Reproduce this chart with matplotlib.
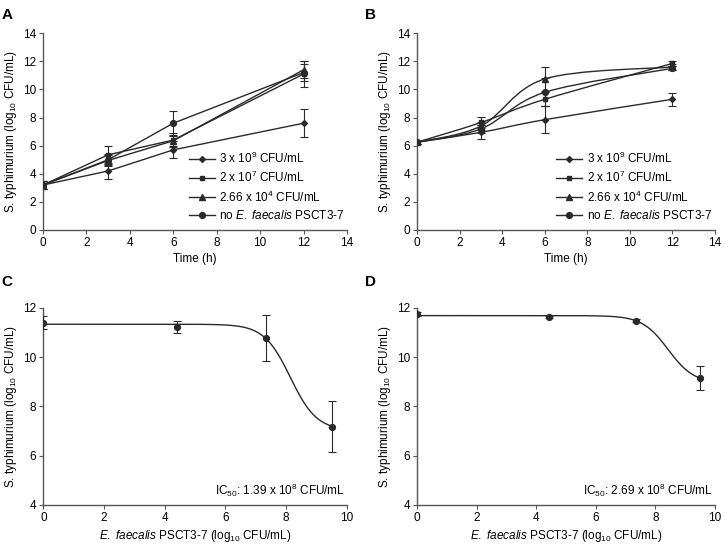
import numpy as np
import matplotlib
matplotlib.use("Agg")
import matplotlib.pyplot as plt
from matplotlib.path import Path
from matplotlib.patches import PathPatch

plt.rcParams['font.family'] = ['Liberation Sans', 'DejaVu Sans']
plt.rcParams['mathtext.fontset'] = 'custom'
plt.rcParams['mathtext.rm'] = 'Liberation Sans'
plt.rcParams['mathtext.it'] = 'Liberation Sans:italic'
plt.rcParams['font.size'] = 8

# ---- data ----
time_h = [0, 3, 6, 12]
labels = [r"3 x 10$^9$ CFU/mL", r"2 x 10$^7$ CFU/mL",
          r"2.66 x 10$^4$ CFU/mL", r"no $\it{E.\ faecalis}$ PSCT3-7"]
markers = ['D', 's', '^', 'o']
msizes = [3.0, 3.5, 4.0, 4.2]

# panel A (straight lines)
a_vals = [[3.2, 4.2, 5.7, 7.6],
          [3.2, 5.35, 6.4, 11.1],
          [3.2, 4.95, 6.35, 11.4],
          [3.2, 5.0, 7.6, 11.2]]
a_err = [[0.3, 0.6, 0.6, 1.0],
         [0.3, 0.65, 0.5, 0.9],
         [0.3, 0.4, 0.4, 0.6],
         [0.3, 0.4, 0.9, 0.6]]

# panel B (smoothed lines)
b_vals = [[6.25, 6.95, 7.85, 9.3],
          [6.25, 7.65, 9.3, 11.85],
          [6.25, 7.4, 10.75, 11.6],
          [6.25, 7.2, 9.8, 11.5]]
b_err = [[0.1, 0.5, 0.95, 0.45],
         [0.1, 0.4, 0.5, 0.15],
         [0.1, 0.3, 0.85, 0.2],
         [0.1, 0.3, 1.0, 0.15]]

# panels C and D (dose response)
dose_log = [0, 4.42, 7.35, 9.5]
c_vals = [11.4, 11.22, 10.76, 7.18]
c_err = [0.25, 0.25, 0.93, 1.02]
c_fit = dict(top=11.33, bottom=7.02, logic50=8.143, hill=1.0)
d_vals = [11.75, 11.63, 11.48, 9.15]
d_err = [0.08, 0.05, 0.05, 0.49]
d_fit = dict(top=11.68, bottom=8.93, logic50=8.43, hill=1.0)
c_ic50 = r"IC$_{50}$: 1.39 x 10$^8$ CFU/mL"
d_ic50 = r"IC$_{50}$: 2.69 x 10$^8$ CFU/mL"

col = '#2a2a2a'
spine_col = '#555555'
ylab = r"S. typhimurium (log$_{10}$ CFU/mL)"


def style_axes(ax):
    for s in ['top', 'right']:
        ax.spines[s].set_visible(False)
    for s in ['left', 'bottom']:
        ax.spines[s].set_color(spine_col)
        ax.spines[s].set_linewidth(1.0)
    ax.tick_params(direction='out', length=3, width=0.8, color=spine_col,
                   labelsize=8.5, pad=2)


def smooth_path(x, y):
    # Catmull-Rom through the points, as cubic bezier
    x = np.asarray(x, float)
    y = np.asarray(y, float)
    px = np.concatenate([[x[0]], x, [x[-1]]])
    py = np.concatenate([[y[0]], y, [y[-1]]])
    verts = [(x[0], y[0])]
    codes = [Path.MOVETO]
    for i in range(1, len(px) - 2):
        c1 = (px[i] + (px[i + 1] - px[i - 1]) / 6, py[i] + (py[i + 1] - py[i - 1]) / 6)
        c2 = (px[i + 1] - (px[i + 2] - px[i]) / 6, py[i + 1] - (py[i + 2] - py[i]) / 6)
        verts += [c1, c2, (px[i + 1], py[i + 1])]
        codes += [Path.CURVE4] * 3
    return Path(verts, codes)


fig = plt.figure(figsize=(7.25, 5.45), dpi=100)
axA = fig.add_axes([0.0593, 0.578, 0.4193, 0.361])
axB = fig.add_axes([0.5756, 0.578, 0.4104, 0.361])
axC = fig.add_axes([0.0598, 0.0734, 0.4184, 0.362])
axD = fig.add_axes([0.5756, 0.0734, 0.4104, 0.362])

# ---- panels A & B ----
for ax, vals, errs, smooth in [(axA, a_vals, a_err, False), (axB, b_vals, b_err, True)]:
    handles = []
    for v, e, m, ms, lab in zip(vals, errs, markers, msizes, labels):
        ax.errorbar(time_h, v, yerr=e, fmt='none', ecolor=col, elinewidth=0.8,
                    capsize=3, capthick=0.8, zorder=2)
        if smooth:
            ax.add_patch(PathPatch(smooth_path(time_h, v), facecolor='none',
                                   edgecolor=col, lw=1.0, zorder=3))
            ax.plot(time_h, v, linestyle='none', marker=m, ms=ms, color=col, zorder=4)
            h, = ax.plot([], [], '-', marker=m, ms=ms, color=col, lw=1.0, label=lab)
        else:
            h, = ax.plot(time_h, v, '-', marker=m, ms=ms, color=col, lw=1.0,
                         label=lab, zorder=3)
        handles.append(h)
    ax.set_xlim(0, 14)
    ax.set_ylim(0, 14)
    ax.set_xticks(range(0, 15, 2))
    ax.set_yticks(range(0, 15, 2))
    ax.set_xlabel("Time (h)", fontsize=8.5, labelpad=3)
    ax.set_ylabel(ylab, fontsize=8.5, labelpad=3)
    style_axes(ax)
    ax.legend(handles=handles, loc='lower right', bbox_to_anchor=(1.02, 0.0),
              frameon=False, fontsize=8.5, handlelength=2.2, handletextpad=0.4,
              labelspacing=0.35, borderaxespad=0.3)

# ---- panels C & D ----
for ax, vals, errs, fit, txt in [(axC, c_vals, c_err, c_fit, c_ic50),
                                 (axD, d_vals, d_err, d_fit, d_ic50)]:
    xs = np.linspace(0, dose_log[-1], 300)
    ys = fit['bottom'] + (fit['top'] - fit['bottom']) / (
        1 + 10 ** ((xs - fit['logic50']) * fit['hill']))
    ax.plot(xs, ys, color=col, lw=1.0, zorder=3)
    ax.errorbar(dose_log, vals, yerr=errs, fmt='o', ms=4.2, color=col, ecolor=col,
                elinewidth=0.8, capsize=3, capthick=0.8, zorder=4)
    ax.set_xlim(0, 10)
    ax.set_ylim(4, 12)
    ax.set_xticks(range(0, 11, 2))
    ax.set_yticks(range(4, 13, 2))
    ax.set_xlabel(r"$\it{E.\ faecalis}$ PSCT3-7 (log$_{10}$ CFU/mL)", fontsize=8.5, labelpad=3)
    ax.set_ylabel(ylab, fontsize=8.5, labelpad=3)
    ax.text(0.995, 0.03, txt, transform=ax.transAxes, ha='right', va='bottom',
            fontsize=8.5)
    style_axes(ax)

for lab, x, y in [('A', 0.002, 0.985), ('B', 0.503, 0.985),
                  ('C', 0.002, 0.495), ('D', 0.503, 0.495)]:
    fig.text(x, y, lab, fontsize=11, fontweight='bold', ha='left', va='top')

fig.savefig('out.png', dpi=100)
